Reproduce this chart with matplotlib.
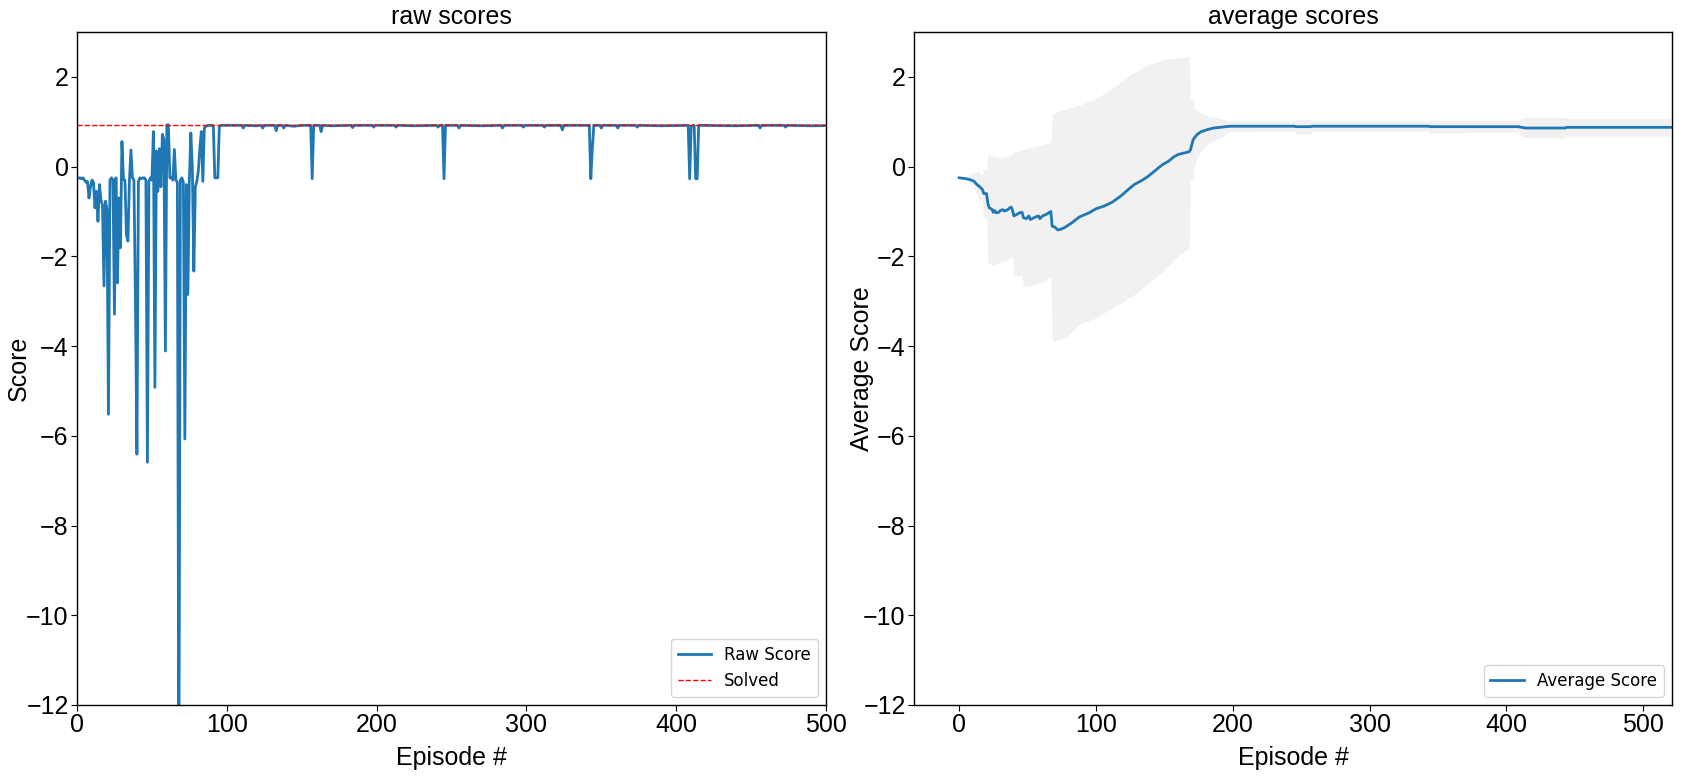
import matplotlib
matplotlib.use('Agg')
import matplotlib.pyplot as plt
import numpy as np

plt.rcParams['font.family'] = ['Liberation Sans', 'DejaVu Sans']

# ---------------- data ----------------
# raw scores, one value per episode for episodes 0..100
early_scores = [
    -0.25, -0.26, -0.25, -0.27, -0.25, -0.30, -0.35, -0.33, -0.70, -0.45,
    -0.30, -0.35, -0.92, -0.55, -1.22, -0.40, -0.75, -0.85, -2.66, -0.77,
    -0.95, -5.52, -0.30, -0.25, -0.30, -3.29, -0.25, -2.59, -0.70, -1.81,
    0.56, -0.29, -0.30, -1.52, -1.66, -0.30, 0.37, -0.25, -0.30, -2.92,
    -6.41, -0.33, -0.25, -0.27, -0.25, -0.25, -0.30, -6.59, -0.33, -0.25,
    -0.30, 0.78, -4.92, 0.35, -0.55, 0.40, -0.45, 0.72, 0.60, -4.11,
    0.93, 0.93, -0.25, -0.25, -0.30, 0.38, -0.30, -0.35, -14.0, -0.30,
    -0.25, -0.35, -6.07, -0.40, -2.85, -0.30, 0.75, -0.03, -2.33, -0.45,
    -0.33, -0.10, 0.40, 0.78, -0.33, 0.86, 0.90, 0.91, 0.92, 0.92,
    0.92, 0.91, -0.25, -0.25, -0.25, 0.89, 0.92, 0.92, 0.92, 0.92,
    0.92,
]
# raw scores after episode 100 (key episodes; plateau between them)
late_episodes = [101, 110, 111, 112, 120, 123, 124, 125, 132, 133, 134, 137, 138, 139,
                 145, 150, 156, 157, 158, 162, 163, 164, 170, 183, 184, 185, 197, 198,
                 199, 212, 213, 214, 225, 240, 241, 242, 244, 245, 246, 254, 255, 256,
                 270, 283, 284, 285, 297, 298, 299, 311, 312, 313, 323, 324, 325, 342,
                 343, 344, 345, 349, 350, 351, 360, 361, 362, 373, 374, 375, 390, 408,
                 409, 410, 412, 413, 414, 415, 440, 455, 456, 457, 472, 473, 474, 490,
                 520]
late_scores = [0.92, 0.92, 0.86, 0.92, 0.91, 0.92, 0.86, 0.92, 0.92, 0.80, 0.92, 0.92, 0.86, 0.92,
               0.90, 0.92, 0.92, -0.27, 0.92, 0.92, 0.78, 0.92, 0.91, 0.92, 0.87, 0.92, 0.92, 0.88,
               0.92, 0.92, 0.88, 0.92, 0.91, 0.92, 0.88, 0.92, 0.92, -0.27, 0.92, 0.92, 0.86, 0.92,
               0.91, 0.92, 0.86, 0.92, 0.92, 0.88, 0.92, 0.92, 0.88, 0.92, 0.92, 0.82, 0.92, 0.92,
               -0.27, 0.40, 0.92, 0.92, 0.86, 0.92, 0.92, 0.86, 0.92, 0.92, 0.88, 0.92, 0.91, 0.92,
               -0.27, 0.90, 0.92, -0.27, -0.27, 0.92, 0.91, 0.92, 0.86, 0.92, 0.92, 0.88, 0.92, 0.91,
               0.92]
solved_score = 0.92

# average score (rolling)
avg_episodes = [0, 5, 8, 11, 13, 15, 17, 18, 20, 21, 22, 24, 25, 26, 27, 29, 30, 32, 33, 35,
                37, 38, 39, 40, 42, 44, 46, 47, 49, 51, 52, 54, 56, 58, 59, 61, 64, 67, 68,
                70, 72, 74, 77, 82, 88, 95, 100, 106, 112, 118, 124, 128, 134, 138, 142, 146,
                149, 153, 157, 160, 164, 168, 169, 171, 174, 177, 181, 186, 192, 198, 245,
                246, 257, 258, 343, 344, 409, 410, 414, 443, 444, 520]
avg_scores = [-0.25, -0.27, -0.29, -0.33, -0.40, -0.45, -0.51, -0.60, -0.60, -0.82, -0.92,
              -0.95, -1.02, -0.98, -1.03, -1.02, -0.98, -0.96, -0.99, -0.97, -0.92, -0.90,
              -0.97, -1.10, -1.07, -1.03, -1.02, -1.14, -1.16, -1.10, -1.18, -1.15, -1.12,
              -1.10, -1.16, -1.10, -1.06, -1.00, -1.33, -1.35, -1.41, -1.40, -1.36, -1.26,
              -1.12, -1.03, -0.94, -0.88, -0.79, -0.66, -0.50, -0.40, -0.30, -0.22, -0.12,
              -0.02, 0.05, 0.12, 0.22, 0.27, 0.30, 0.33, 0.37, 0.60, 0.72, 0.78, 0.82, 0.86,
              0.88, 0.90, 0.90, 0.89, 0.89, 0.90, 0.90, 0.89, 0.89, 0.88, 0.86, 0.86, 0.875,
              0.875]

# shaded spread around the average
band_episodes = [0, 5, 10, 14, 17, 18, 20, 21, 25, 30, 34, 39, 40, 46, 47, 52, 56, 60, 64,
                 67, 68, 70, 72, 74, 78, 88, 100, 112, 125, 137, 149, 161, 168, 169, 171,
                 172, 174, 178, 182, 186, 190, 194, 196, 245, 246, 257, 258, 343, 344, 346,
                 409, 410, 413, 414, 443, 444, 520]
band_low = [-0.25, -0.30, -0.42, -0.70, -0.80, -1.15, -1.15, -2.15, -2.20, -2.14, -2.10,
            -2.00, -2.45, -2.40, -2.66, -2.66, -2.62, -2.58, -2.51, -2.44, -3.85, -3.89,
            -3.86, -3.84, -3.81, -3.51, -3.37, -3.15, -2.92, -2.63, -2.33, -1.96, -1.81,
            -0.30, -0.30, 0.03, 0.20, 0.40, 0.50, 0.58, 0.63, 0.68, 0.78, 0.79, 0.73,
            0.73, 0.79, 0.79, 0.73, 0.75, 0.77, 0.70, 0.66, 0.64, 0.64, 0.68, 0.68]
band_high = [-0.25, -0.22, -0.15, -0.10, -0.20, -0.05, -0.05, 0.25, 0.23, 0.20, 0.22,
             0.28, 0.33, 0.36, 0.38, 0.43, 0.45, 0.48, 0.51, 0.56, 1.15, 1.19, 1.22, 1.25,
             1.28, 1.37, 1.52, 1.74, 2.04, 2.26, 2.38, 2.43, 2.45, 1.50, 1.50, 1.29, 1.25,
             1.18, 1.12, 1.10, 1.08, 1.05, 1.01, 1.01, 1.05, 1.05, 1.01, 1.01, 1.05, 1.04,
             1.03, 1.07, 1.09, 1.10, 1.10, 1.07, 1.07]

y_ticks = [-12, -10, -8, -6, -4, -2, 0, 2]
x_ticks = [0, 100, 200, 300, 400, 500]

# ---------------- plot ----------------
raw_episodes = list(range(len(early_scores))) + late_episodes
raw_scores = early_scores + late_scores

W, H = 1682, 778
fig = plt.figure(figsize=(W / 100, H / 100), dpi=100)
ax1 = fig.add_axes([77 / W, 73 / H, 749 / W, 673 / H])
ax2 = fig.add_axes([914 / W, 73 / H, 758 / W, 673 / H])

blue = '#1f77b4'
legend_font = {'family': 'DejaVu Sans', 'size': 12}

ax1.plot(raw_episodes, raw_scores, color=blue, lw=2, label='Raw Score')
ax1.axhline(solved_score, color='red', ls='--', lw=1, label='Solved')
ax1.set_xlim(0, 500)
ax1.set_ylim(-12, 3)
ax1.set_title('raw scores', fontsize=18)
ax1.set_xlabel('Episode #', fontsize=18)
ax1.set_ylabel('Score', fontsize=18)
ax1.yaxis.set_label_coords(-0.061, 0.5)
ax1.legend(loc='lower right', prop=legend_font)

ax2.fill_between(band_episodes, band_low, band_high, color='#f1f1f1', lw=0)
ax2.plot(avg_episodes, avg_scores, color=blue, lw=2, label='Average Score')
ax2.set_xlim(-33, 521)
ax2.set_ylim(-12, 3)
ax2.set_title('average scores', fontsize=18)
ax2.set_xlabel('Episode #', fontsize=18)
ax2.set_ylabel('Average Score', fontsize=18)
ax2.yaxis.set_label_coords(-0.053, 0.5)
ax2.legend(loc='lower right', prop=legend_font)

for ax in (ax1, ax2):
    ax.set_xticks(x_ticks)
    ax.set_yticks(y_ticks)
    ax.tick_params(labelsize=18, pad=2, length=4)
    ax.xaxis.labelpad = 6
    for s in ax.spines.values():
        s.set_linewidth(1.0)

fig.savefig('out.png', dpi=100)
